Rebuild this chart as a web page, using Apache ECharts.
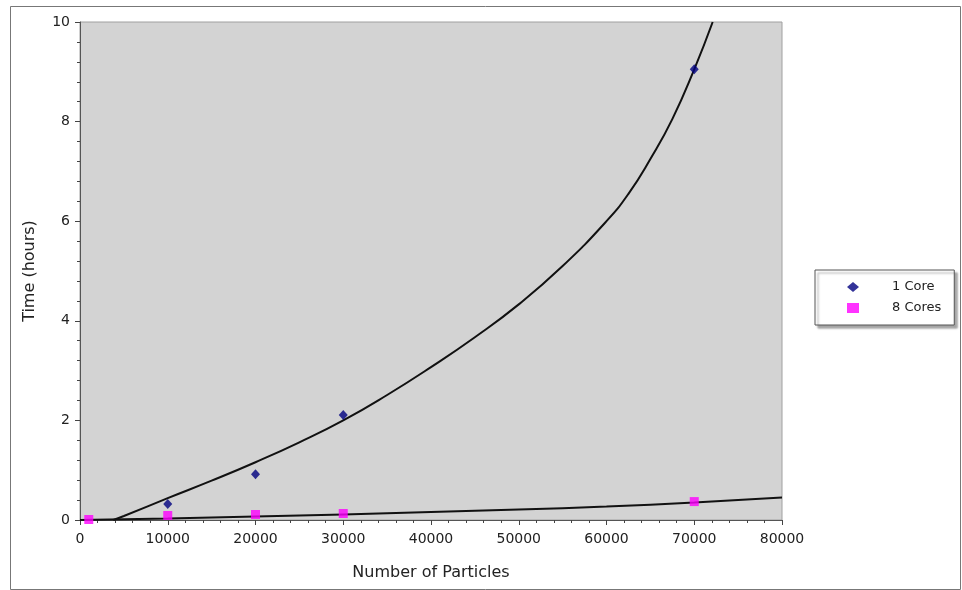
<!DOCTYPE html>
<html>
<head>
<meta charset="utf-8">
<script src="https://cdn.jsdelivr.net/npm/echarts@6/dist/echarts.min.js"></script>
<style>html,body{margin:0;padding:0;background:#fff}#c{width:962px;height:590px}</style>
</head>
<body>
<div id="c"></div>
<script>
// Measured points
const core1Points = [[10000, 0.32], [20000, 0.92], [30000, 2.11], [70000, 9.05]];
const core8Points = [[1000, 0.01], [10000, 0.09], [20000, 0.11], [30000, 0.13], [70000, 0.37]];
// Trend curves
const core1Curve = [[3800, 0], [5000, 0.08], [10000, 0.44], [15000, 0.79], [20000, 1.16], [25000, 1.56], [30000, 2.0], [35000, 2.51], [40000, 3.07], [45000, 3.67], [50000, 4.33], [55000, 5.1], [60000, 6.0], [62500, 6.55], [65000, 7.25], [67500, 8.05], [70000, 9.05], [72100, 10]];
const core8Curve = [[0, 0], [10000, 0.03], [20000, 0.07], [30000, 0.11], [40000, 0.16], [50000, 0.21], [60000, 0.27], [70000, 0.35], [80000, 0.45]];
const seriesNames = ['1 Core', '8 Cores'];
const xTitle = 'Number of Particles';
const yTitle = 'Time (hours)';

const font = 'DejaVu Sans';
const chart = echarts.init(document.getElementById('c'));
chart.setOption({
  animation: false,
  textStyle: { fontFamily: font },
  graphic: [{
    type: 'rect', left: 8, top: 4, z: -1,
    shape: { width: 950, height: 583 },
    style: { fill: 'none', stroke: '#777', lineWidth: 1 }
  }],
  grid: {
    left: 80, top: 22, right: 180, bottom: 70,
    show: true, backgroundColor: '#d3d3d3', borderColor: '#a0a0a0', borderWidth: 1
  },
  legend: {
    data: seriesNames,
    orient: 'vertical',
    left: 815, top: 270,
    padding: [10, 13, 10, 32],
    itemGap: 7,
    itemWidth: 12, itemHeight: 10,
    backgroundColor: '#fff',
    borderColor: '#555', borderWidth: 1,
    shadowColor: 'rgba(0,0,0,0.35)', shadowOffsetX: 3, shadowOffsetY: 3, shadowBlur: 2,
    textStyle: { fontFamily: font, fontSize: 13, color: '#222', lineHeight: 14, padding: [0, 0, 0, 28] }
  },
  xAxis: {
    type: 'value', min: 0, max: 80000, interval: 10000,
    name: xTitle, nameLocation: 'middle', nameGap: 45,
    nameTextStyle: { fontFamily: font, fontSize: 16, color: '#222' },
    axisLine: { show: true, lineStyle: { color: '#555', width: 1 } },
    axisTick: { show: true, length: 5, lineStyle: { color: '#444' } },
    minorTick: { show: true, splitNumber: 5, length: 3, lineStyle: { color: '#444' } },
    axisLabel: { fontFamily: font, fontSize: 14, color: '#222', margin: 12, formatter: v => String(v) },
    splitLine: { show: false }
  },
  yAxis: {
    type: 'value', min: 0, max: 10, interval: 2,
    name: yTitle, nameLocation: 'middle', nameGap: 42,
    nameTextStyle: { fontFamily: font, fontSize: 16, color: '#222' },
    axisLine: { show: true, lineStyle: { color: '#555', width: 1 } },
    axisTick: { show: true, length: 5, lineStyle: { color: '#444' } },
    minorTick: { show: true, splitNumber: 5, length: 3, lineStyle: { color: '#444' } },
    axisLabel: { fontFamily: font, fontSize: 14, color: '#222', margin: 10 },
    splitLine: { show: false }
  },
  series: [
    {
      name: 'fit1', type: 'line', data: core1Curve, smooth: true, showSymbol: false,
      lineStyle: { color: '#111', width: 2 }, z: 2, silent: true
    },
    {
      name: 'fit8', type: 'line', data: core8Curve, smooth: true, showSymbol: false,
      lineStyle: { color: '#111', width: 2 }, z: 2, silent: true
    },
    {
      name: seriesNames[0], type: 'scatter', data: core1Points,
      symbol: 'diamond', symbolSize: [9, 10],
      itemStyle: { color: '#000080' }, z: 3
    },
    {
      name: seriesNames[1], type: 'scatter', data: core8Points,
      symbol: 'rect', symbolSize: 9,
      itemStyle: { color: '#ff00ff' }, z: 3
    }
  ]
});
</script>
</body>
</html>
